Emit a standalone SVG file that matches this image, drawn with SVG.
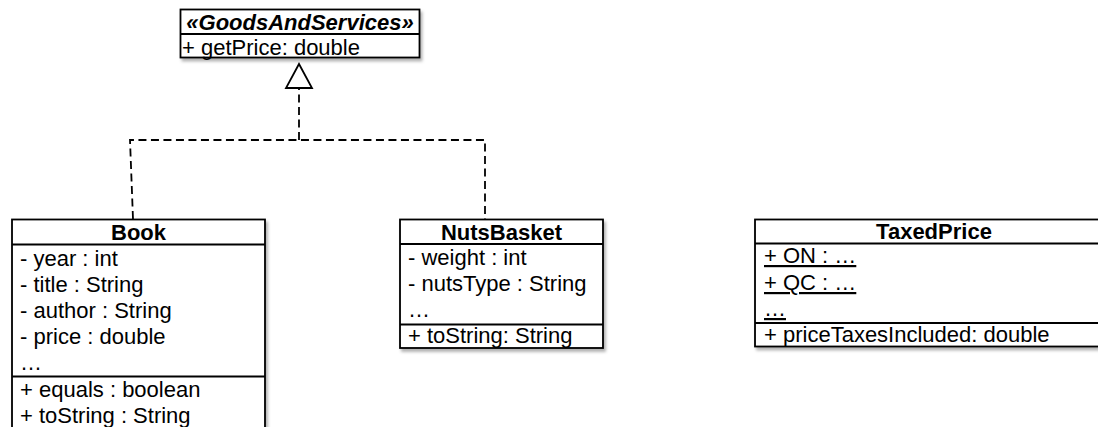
<svg xmlns="http://www.w3.org/2000/svg" width="1098" height="427" viewBox="0 0 1098 427">
  <style>
    .box { fill: #ffffff; stroke: #000000; stroke-width: 1.8; filter: url(#shadow); }
    .sep { stroke: #000000; stroke-width: 1.8; fill: none; }
    .t { font-family: "Liberation Sans", Arial, sans-serif; font-size: 22px; fill: #000000; }
    .title { font-weight: bold; text-anchor: middle; }
    .stereo { font-style: italic; font-weight: bold; text-anchor: middle; }
    .static { text-decoration: underline; }
    .dash { fill: none; stroke: #000000; stroke-width: 1.8; stroke-dasharray: 8 4.5; }
    .head { fill: #ffffff; stroke: #000000; stroke-width: 1.8; }
  </style>
  <defs>
    <filter id="shadow" x="-5%" y="-5%" width="115%" height="120%">
      <feDropShadow dx="2" dy="3" stdDeviation="1.5" flood-color="#000000" flood-opacity="0.3"/>
    </filter>
  </defs>

  <rect width="1098" height="427" fill="#ffffff"/>

  <!-- realization connectors -->
  <g id="connectors">
    <path class="dash" d="M133 219 L130 140 H485 V219 M299 140 V88"/>
    <polygon class="head" points="299,64 286,88 312,88"/>
  </g>

  <!-- interface -->
  <g id="node-goods">
    <rect class="box" x="180.5" y="9.5" width="239" height="48"/>
    <line class="sep" x1="180.5" y1="34" x2="419.5" y2="34"/>
    <text class="t stereo" x="300" y="30" font-size="21">«GoodsAndServices»</text>
    <text class="t" x="182" y="55" font-size="23">+ getPrice: double</text>
  </g>

  <!-- Book class -->
  <g id="node-book">
    <rect class="box" x="12" y="219.5" width="253" height="230"/>
    <line class="sep" x1="12" y1="244.5" x2="265" y2="244.5"/>
    <line class="sep" x1="12" y1="376.5" x2="265" y2="376.5"/>
    <text class="t title" x="138.5" y="240">Book</text>
    <text class="t" x="20" y="266">- year : int</text>
    <text class="t" x="20" y="292">- title : String</text>
    <text class="t" x="20" y="318">- author : String</text>
    <text class="t" x="20" y="344">- price : double</text>
    <text class="t" x="20" y="370">…</text>
    <text class="t" x="20" y="397">+ equals : boolean</text>
    <text class="t" x="20" y="423">+ toString : String</text>
  </g>

  <!-- NutsBasket class -->
  <g id="node-nutsbasket">
    <rect class="box" x="400" y="219.5" width="203" height="128.5"/>
    <line class="sep" x1="400" y1="244" x2="603" y2="244"/>
    <line class="sep" x1="400" y1="324.5" x2="603" y2="324.5"/>
    <text class="t title" x="501.5" y="240">NutsBasket</text>
    <text class="t" x="408" y="265">- weight : int</text>
    <text class="t" x="408" y="291">- nutsType : String</text>
    <text class="t" x="408" y="317">…</text>
    <text class="t" x="408" y="343">+ toString: String</text>
  </g>

  <!-- TaxedPrice class -->
  <g id="node-taxedprice">
    <rect class="box" x="755" y="219.5" width="358" height="127"/>
    <line class="sep" x1="755" y1="243.5" x2="1113" y2="243.5"/>
    <line class="sep" x1="755" y1="323" x2="1113" y2="323"/>
    <text class="t title" x="934" y="239">TaxedPrice</text>
    <text class="t static" x="764" y="263">+ ON : …</text>
    <text class="t static" x="764" y="290">+ QC : …</text>
    <text class="t static" x="764" y="316">…</text>
    <text class="t" x="764" y="342">+ priceTaxesIncluded: double</text>
  </g>
</svg>
